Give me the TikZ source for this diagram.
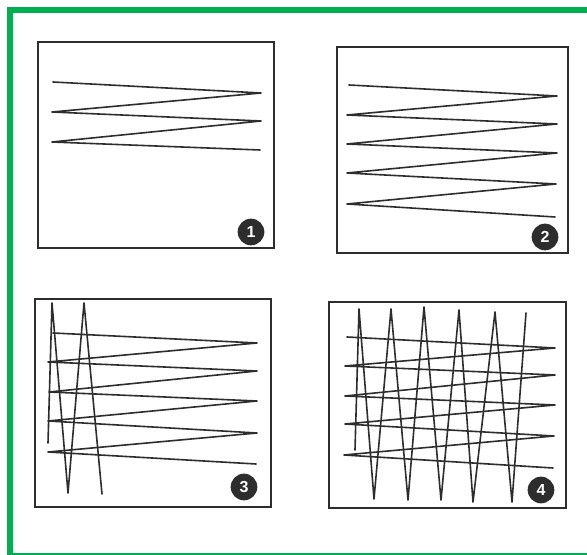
\documentclass[tikz,border=0pt]{standalone}
\usepackage{fontspec}
\setsansfont{Liberation Sans}
\definecolor{frame}{RGB}{0,176,80}
\definecolor{ink}{RGB}{45,45,45}
\tikzset{
  panel/.style={draw=ink, line width=1.5pt},
  zig/.style={draw=ink, line width=1.2pt, line join=round, line cap=round},
  badge/.style={circle, fill=ink, text=white, minimum size=20pt, inner sep=0pt,
    font=\sffamily\bfseries\fontsize{12}{12}\selectfont},
}
\begin{document}
\begin{tikzpicture}[x=0.75pt,y=-0.75pt]
\useasboundingbox (0,0) rectangle (587,555);
\fill[white] (0,0) rectangle (587,555);
% green frame
\draw[frame, line width=4.5pt] (10,555) -- (10,10) -- (587,10);
\draw[frame, line width=1pt] (10,554) -- (587,554);
% panel 1
\draw[panel] (38,42) rectangle (274,248);
\draw[zig] (53,82) -- (261,93) -- (52,112) -- (261,121) -- (52,142) -- (260,150);
\node[badge] (b1) at (251,232) {1};
% panel 2
\draw[panel] (337,47) rectangle (568,253);
\draw[zig] (349,85) -- (557,96) -- (347,115) -- (557,124) -- (347,144) -- (557,153)
  -- (347,173) -- (556,184) -- (347,204) -- (555,217);
\node[badge] (b2) at (545,237) {2};
% panel 3
\draw[panel] (35,299) rectangle (271,507);
\draw[zig] (53,333) -- (257,343) -- (48,362) -- (257,371) -- (49,392) -- (257,401)
  -- (48,421) -- (257,433) -- (48,452) -- (256,464);
\draw[zig] (48,443) -- (52,303) -- (68,493) -- (84,303) -- (102,494);
\node[badge] (b3) at (244,487) {3};
% panel 4
\draw[panel] (329,302) rectangle (566,508);
\draw[zig] (347,337) -- (555,348) -- (345,366) -- (555,375) -- (345,396) -- (555,405)
  -- (345,424) -- (554,436) -- (344,455) -- (553,468);
\draw[zig] (355,450) -- (359,309) -- (374,499) -- (391,309) -- (408,500) -- (424,307)
  -- (441,500) -- (459,310) -- (473,502) -- (495,312) -- (512,502) -- (526,313);
\node[badge] (b4) at (541,490) {4};
\end{tikzpicture}
\end{document}
